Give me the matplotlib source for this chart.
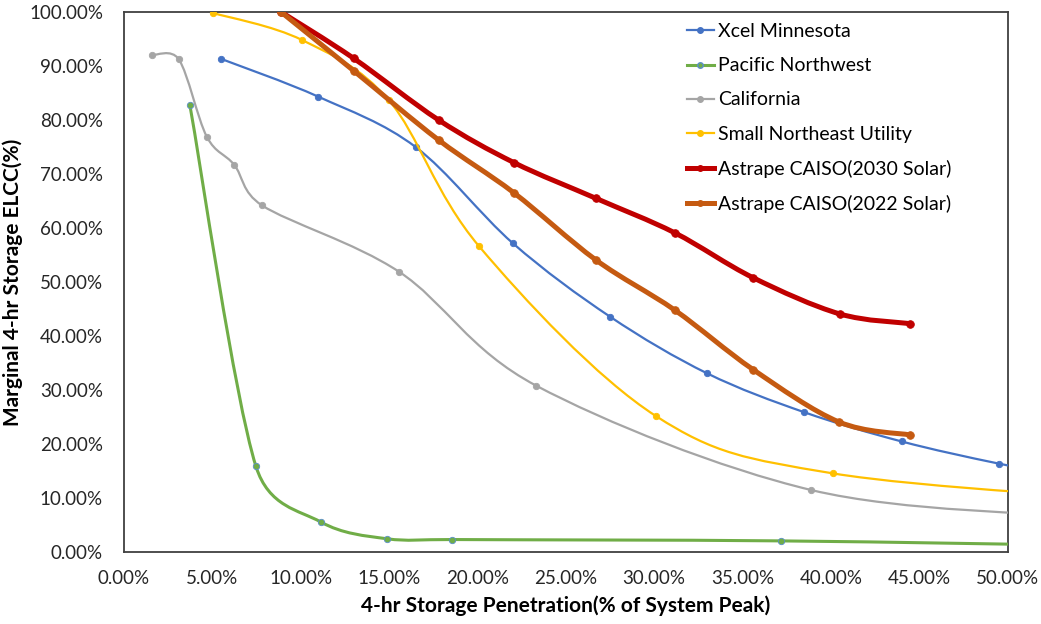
import numpy as np
import matplotlib.pyplot as plt
from matplotlib.path import Path
from matplotlib.patches import PathPatch
from matplotlib.lines import Line2D
from matplotlib.ticker import FuncFormatter

plt.rcParams['font.family'] = ['Lato', 'DejaVu Sans']

# data (% penetration, % ELCC); points past 50% only shape the clipped tail
xcel_x = [5.5, 11.0, 16.5, 22.0, 27.5, 33.0, 38.5, 44.0, 49.5, 55.0]
xcel_y = [91.3, 84.3, 75.0, 57.2, 43.6, 33.1, 25.9, 20.5, 16.4, 13.0]

pnw_x = [3.73, 7.47, 11.14, 14.87, 18.59, 37.16, 55.7]
pnw_y = [82.8, 15.9, 5.6, 2.5, 2.35, 2.1, 1.2]

cal_x = [1.57, 3.11, 4.69, 6.24, 7.81, 15.57, 23.34, 38.9, 54.5]
cal_y = [92.0, 91.2, 76.9, 71.7, 64.2, 51.9, 30.8, 11.5, 6.5]

sne_x = [5.03, 10.07, 15.0, 20.1, 30.1, 40.1, 60.0]
sne_y = [99.8, 94.8, 83.6, 56.6, 25.2, 14.6, 9.0]

a30_x = [8.88, 13.0, 17.8, 22.07, 26.7, 31.17, 35.6, 40.5, 44.5]
a30_y = [100.0, 91.4, 80.0, 72.1, 65.5, 59.1, 50.8, 44.1, 42.3]

a22_x = [8.88, 13.0, 17.8, 22.07, 26.7, 31.17, 35.6, 40.46, 44.5]
a22_y = [100.0, 89.1, 76.3, 66.5, 54.1, 44.8, 33.8, 24.1, 21.7]

series = [
    ('Xcel Minnesota', xcel_x, xcel_y, '#4472C4', 1.6, '#4472C4'),
    ('Pacific Northwest', pnw_x, pnw_y, '#70AD47', 2.2, '#5b8fc9'),
    ('California', cal_x, cal_y, '#A5A5A5', 1.6, '#A5A5A5'),
    ('Small Northeast Utility', sne_x, sne_y, '#FFC000', 1.6, '#FFC000'),
    ('Astrape CAISO(2030 Solar)', a30_x, a30_y, '#C00000', 3.6, '#C00000'),
    ('Astrape CAISO(2022 Solar)', a22_x, a22_y, '#C55A11', 3.6, '#C55A11'),
]

# rough pixel size of one unit on each axis, used to limit bezier handles
SX, SY = 17.68, 5.4


def smooth_path(x, y):
    # excel-like smoothed line: cubic bezier through every point
    p = np.column_stack([np.asarray(x) * SX, np.asarray(y) * SY])
    ext = np.vstack([p[0], p, p[-1]])
    verts = [p[0]]
    codes = [Path.MOVETO]
    for i in range(len(p) - 1):
        p0, p1, p2, p3 = ext[i], ext[i + 1], ext[i + 2], ext[i + 3]
        seg = np.linalg.norm(p2 - p1)
        t1 = (p2 - p0) / 6.0
        t2 = (p3 - p1) / 6.0
        for t in (t1, t2):
            n = np.linalg.norm(t)
            if n > 0.5 * seg:
                t *= 0.5 * seg / n
        verts += [p1 + t1, p2 - t2, p2]
        codes += [Path.CURVE4] * 3
    verts = np.array(verts) / [SX, SY]
    return Path(verts, codes)


fig = plt.figure(figsize=(10.41, 6.24), dpi=100)
ax = fig.add_axes([0.119, 0.115, 0.849, 0.866])

handles = []
for i, (name, x, y, col, lw, edge) in enumerate(series):
    patch = PathPatch(smooth_path(x, y), facecolor='none', edgecolor=col,
                      lw=lw, capstyle='round', joinstyle='round',
                      zorder=3 + i)
    ax.add_patch(patch)
    ms = 5.5 if lw > 3 else 4.6
    ax.plot(x, y, 'o', color=col, ms=ms, mec=edge, mew=0.6, zorder=3 + i)
    handles.append(Line2D([0], [0], color=col, lw=lw, marker='o', ms=4,
                          mec=edge, label=name))

ax.set_xlim(0, 50)
ax.set_ylim(0, 100)
ax.set_xticks(np.arange(0, 51, 5))
ax.set_yticks(np.arange(0, 101, 10))
pct = FuncFormatter(lambda v, pos: '%.2f%%' % v)
ax.xaxis.set_major_formatter(pct)
ax.yaxis.set_major_formatter(pct)
ax.tick_params(length=0, labelsize=13.5, colors='#262626')
ax.tick_params(axis='y', pad=15)
ax.tick_params(axis='x', pad=13)

for s in ax.spines.values():
    s.set_color('#404040')
    s.set_linewidth(1.3)

ax.set_xlabel('4-hr Storage Penetration(% of System Peak)', fontsize=15,
              fontweight='bold', labelpad=6)
ax.set_ylabel('Marginal 4-hr Storage ELCC(%)', fontsize=15,
              fontweight='bold', labelpad=4)

ax.legend(handles=handles, loc='upper left', bbox_to_anchor=(0.637, 0.979),
          frameon=False, fontsize=14, handlelength=1.4, handletextpad=0.2,
          labelspacing=0.88, borderaxespad=0, borderpad=0)

fig.savefig('out.png', dpi=100)
